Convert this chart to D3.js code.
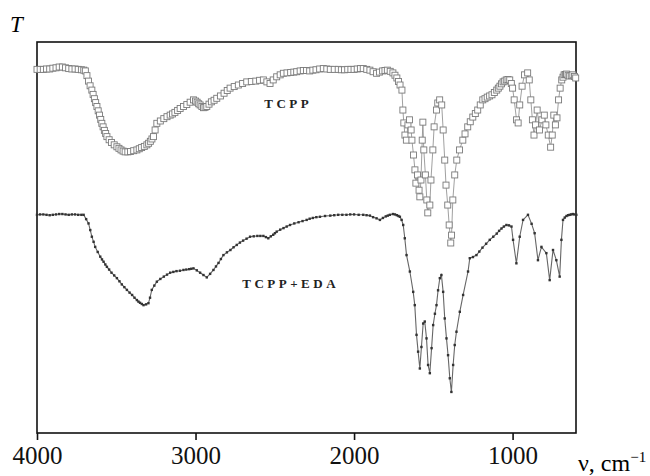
<!DOCTYPE html>
<html>
<head>
<meta charset="utf-8">
<script src="https://cdn.jsdelivr.net/npm/d3@7"></script>
<style>
  body { margin: 0; background: #fff; }
  svg text { font-family: "Liberation Serif", "DejaVu Serif", serif; }
  .axis text { font-size: 25px; fill: #111; font-family: "Liberation Serif", serif; }
  .axis line { stroke: #111; stroke-width: 1.6; }
  .label { font-size: 13px; font-weight: bold; letter-spacing: 3.5px; fill: #222; }
</style>
</head>
<body>
<script>
// wavenumber ticks
var xTicks = [4000, 3000, 2000, 1000];

// TCPP spectrum (wavenumber, transmittance in arbitrary %)
var tcppWave = [4000,3980,3960,3940,3920,3900,3880,3860,3840,3820,3800,3780,3760,3740,3720,3705,3695,3685,3675,3665,3654,3646,3638,3630,3622,3614,3606,3598,3591,3583,3575,3567,3559,3545,3530,3513,3496,3483,3470,3457,3444,3427,3410,3390,3370,3355,3340,3323,3307,3296,3285,3275,3265,3255,3244,3222,3200,3180,3160,3145,3130,3113,3097,3076,3055,3034,3013,3000,2990,2980,2971,2960,2950,2940,2929,2915,2900,2883,2866,2843,2820,2800,2782,2756,2730,2703,2677,2648,2620,2596,2572,2550,2530,2510,2488,2466,2446,2423,2400,2380,2362,2340,2320,2300,2280,2260,2240,2217,2194,2172,2150,2125,2100,2080,2060,2040,2020,2000,1980,1960,1942,1920,1900,1880,1858,1840,1820,1805,1790,1772,1755,1742,1730,1720,1710,1698,1692,1686,1679,1670,1660,1650,1640,1635,1625,1616,1610,1600,1590,1585,1578,1570,1566,1560,1550,1541,1535,1522,1515,1503,1495,1480,1472,1460,1447,1438,1428,1420,1409,1400,1390,1385,1377,1365,1352,1335,1314,1300,1283,1267,1251,1235,1220,1204,1188,1174,1160,1145,1130,1115,1100,1090,1080,1070,1060,1050,1040,1029,1018,1008,1000,990,975,965,955,940,925,905,895,885,875,865,855,845,830,815,800,790,775,760,750,740,730,720,710,700,690,682,675,667,660,650,640,630,620,610,602];
var tcppT = [93.0,93.0,93.0,93.1,93.1,93.3,93.4,93.6,93.6,93.4,93.2,93.1,93.1,93.0,92.9,92.8,92.6,91.4,90.0,88.8,87.7,86.6,85.5,84.5,83.5,82.4,81.3,80.2,79.2,78.3,77.4,76.6,75.8,75.0,74.3,73.7,73.2,72.8,72.4,72.1,71.9,71.9,72.0,72.2,72.4,72.7,73.0,73.3,73.7,74.1,74.6,75.2,75.8,77.5,79.2,79.8,80.4,80.9,81.3,81.6,82.0,82.5,83.0,83.5,84.0,84.6,85.2,84.9,84.6,84.2,83.9,83.5,83.2,83.3,83.5,84.1,84.7,85.1,85.6,86.2,86.9,87.6,88.2,88.6,89.0,89.4,89.8,89.9,90.0,90.2,90.3,89.8,89.4,90.3,91.1,91.6,92.0,92.1,92.2,92.3,92.4,92.6,92.7,92.7,92.6,92.8,92.9,93.1,93.2,93.1,93.0,93.0,93.0,92.9,92.9,93.0,93.0,93.0,93.1,93.2,93.2,93.0,92.8,92.4,92.0,92.3,92.6,92.7,92.8,92.5,92.1,91.5,90.8,89.9,89.0,87.7,82.6,79.3,76.2,74.9,78.8,80.1,77.5,74.9,71.1,67.3,63.9,66.0,62.1,60.4,64.7,74.9,79.5,72.4,66.0,59.6,56.3,58.3,64.7,72.4,78.3,82.6,84.4,85.2,83.9,77.5,69.8,63.4,58.3,53.2,48.6,50.6,59.6,66.0,69.8,72.4,74.9,76.5,78.3,79.6,80.8,81.7,82.6,83.9,85.2,85.5,85.9,86.2,86.5,87.1,87.7,88.2,88.7,89.3,89.8,90.0,90.3,90.4,90.3,89.4,88.2,85.2,80.1,79.3,83.9,88.7,91.6,92.1,90.3,85.2,80.1,76.2,78.8,82.6,77.5,80.1,81.3,78.8,76.2,73.1,76.2,81.3,78.8,80.6,85.2,88.2,90.3,91.0,91.6,91.7,91.8,91.5,91.3,91.4,91.6,91.2,90.8];

// TCPP+EDA spectrum
var edaWave = [4000,3980,3960,3940,3920,3900,3880,3860,3840,3820,3800,3780,3760,3740,3720,3706,3690,3675,3664,3654,3643,3633,3617,3601,3590,3580,3569,3559,3545,3530,3513,3496,3480,3465,3449,3433,3416,3400,3385,3370,3360,3350,3339,3328,3312,3297,3287,3276,3260,3244,3222,3200,3180,3160,3140,3120,3098,3076,3058,3040,3027,3013,2992,2971,2950,2929,2908,2887,2871,2855,2840,2824,2802,2780,2760,2740,2720,2700,2678,2656,2633,2610,2591,2572,2556,2541,2525,2510,2499,2488,2466,2445,2425,2404,2377,2350,2325,2299,2280,2260,2238,2215,2183,2150,2125,2100,2074,2048,2024,2000,1971,1942,1921,1900,1880,1858,1837,1818,1800,1787,1774,1755,1742,1730,1720,1711,1700,1690,1680,1669,1648,1627,1617,1606,1596,1585,1575,1564,1554,1543,1533,1522,1511,1501,1490,1480,1470,1459,1449,1438,1428,1417,1407,1396,1386,1375,1365,1354,1333,1312,1281,1270,1250,1228,1210,1190,1167,1144,1122,1100,1085,1070,1055,1039,1023,1007,997,976,955,934,903,880,861,840,818,787,766,745,724,703,692,682,671,660,650,640,630,620,610,598];
var edaT = [55.8,55.9,55.9,55.8,55.7,55.8,55.9,56.0,56.0,55.9,55.8,55.9,55.9,55.8,55.8,55.8,54.7,53.6,51.9,50.2,48.9,47.6,46.3,45.1,44.4,43.8,43.1,42.5,41.8,41.0,40.3,39.6,38.8,38.0,37.3,36.6,35.9,35.3,34.6,34.0,33.6,33.3,33.0,32.7,32.9,33.2,34.6,36.6,37.7,38.7,39.4,40.0,40.5,41.0,41.2,41.4,41.5,41.7,41.8,41.9,42.0,42.1,41.6,41.0,40.4,39.8,40.7,41.7,42.6,43.5,44.5,45.5,46.2,46.8,47.5,48.1,48.7,49.2,49.7,50.2,50.3,50.4,50.4,50.4,50.1,49.8,50.3,50.7,51.1,51.5,52.0,52.4,52.8,53.2,53.6,53.9,54.2,54.5,54.8,55.0,55.2,55.3,55.5,55.6,55.7,55.8,55.8,55.8,55.9,55.9,55.8,55.8,55.7,55.6,55.2,54.9,54.5,55.0,55.4,55.6,55.8,56.0,55.9,55.7,55.5,55.3,54.5,53.2,49.8,45.5,41.3,36.1,32.7,25.1,20.8,16.5,22.0,28.0,28.5,24.2,17.4,15.3,21.7,27.6,30.5,32.7,36.5,39.6,40.4,36.1,29.3,24.2,19.9,14.0,10.5,17.4,22.5,25.9,31.0,35.3,41.3,44.7,45.0,45.5,46.4,47.4,48.4,49.4,50.2,51.0,51.7,52.3,52.8,53.2,53.1,52.8,49.4,43.4,50.2,54.5,55.8,53.5,51.1,44.2,47.6,46.0,39.1,46.8,44.2,40.0,49.4,54.5,55.1,55.5,55.7,55.8,55.9,56.0,55.9,55.8];

var labels = [
  {text: 'TCPP', nu: 2415, t: 83.1},
  {text: 'TCPP+EDA', nu: 2400, t: 37.1}
];

var margin = {top: 42, right: 74, bottom: 43, left: 37};
var width = 650 - margin.left - margin.right;
var height = 476 - margin.top - margin.bottom;

var svg = d3.select('body')
  .append('svg')
  .attr('width', 650)
  .attr('height', 476)
  .append('g')
  .attr('transform', 'translate(' + margin.left + ',' + margin.top + ')');

var xScale = d3.scaleLinear()
  .domain([4000, 600])
  .range([0, width]);

var yScale = d3.scaleLinear()
  .domain([0, 100])
  .range([height, 0]);

var xAxis = d3.axisBottom(xScale)
  .tickValues(xTicks)
  .tickSize(7)
  .tickPadding(6)
  .tickFormat(d3.format('d'));

var gx = svg.append('g')
  .attr('class', 'axis')
  .attr('transform', 'translate(0,' + height + ')')
  .call(xAxis);
gx.attr('font-family', null);
gx.select('.domain').remove();

// frame
svg.append('rect')
  .attr('x', 0)
  .attr('y', 0)
  .attr('width', width)
  .attr('height', height)
  .style('fill', 'none')
  .style('stroke', '#111')
  .style('stroke-width', 1.6);

function toPoints(wave, t) {
  return wave.map(function(d, i) { return {nu: d, t: t[i]}; });
}

var line = d3.line()
  .x(function(d) { return xScale(d.nu); })
  .y(function(d) { return yScale(d.t); });

// TCPP: thin line + open squares
var tcpp = toPoints(tcppWave, tcppT);
svg.append('path')
  .datum(tcpp)
  .attr('d', line)
  .style('fill', 'none')
  .style('stroke', '#888')
  .style('stroke-width', 0.8);

svg.selectAll('.sq')
  .data(tcpp)
  .enter().append('rect')
  .attr('class', 'sq')
  .attr('x', function(d) { return xScale(d.nu) - 3; })
  .attr('y', function(d) { return yScale(d.t) - 3; })
  .attr('width', 6)
  .attr('height', 6)
  .style('fill', '#fff')
  .style('stroke', '#7a7a7a')
  .style('stroke-width', 0.9);

// TCPP+EDA: dark line + tiny marks
var eda = toPoints(edaWave, edaT);
svg.append('path')
  .datum(eda)
  .attr('d', line)
  .style('fill', 'none')
  .style('stroke', '#666')
  .style('stroke-width', 1.1);

svg.selectAll('.dot')
  .data(eda)
  .enter().append('rect')
  .attr('class', 'dot')
  .attr('x', function(d) { return xScale(d.nu) - 1.2; })
  .attr('y', function(d) { return yScale(d.t) - 1.2; })
  .attr('width', 2.4)
  .attr('height', 2.4)
  .style('fill', '#333');

svg.selectAll('.label')
  .data(labels)
  .enter().append('text')
  .attr('class', 'label')
  .attr('x', function(d) { return xScale(d.nu); })
  .attr('y', function(d) { return yScale(d.t); })
  .attr('text-anchor', 'middle')
  .text(function(d) { return d.text; });

// axis titles
svg.append('text')
  .attr('x', -27)
  .attr('y', -10)
  .style('font-size', '23px')
  .style('font-style', 'italic')
  .text('T');

var xt = svg.append('text')
  .attr('x', width + 2)
  .attr('y', height + 38)
  .style('font-size', '24px')
  .text('ν, cm');
xt.append('tspan')
  .attr('dy', -9)
  .style('font-size', '15px')
  .text('−1');
</script>
</body>
</html>
